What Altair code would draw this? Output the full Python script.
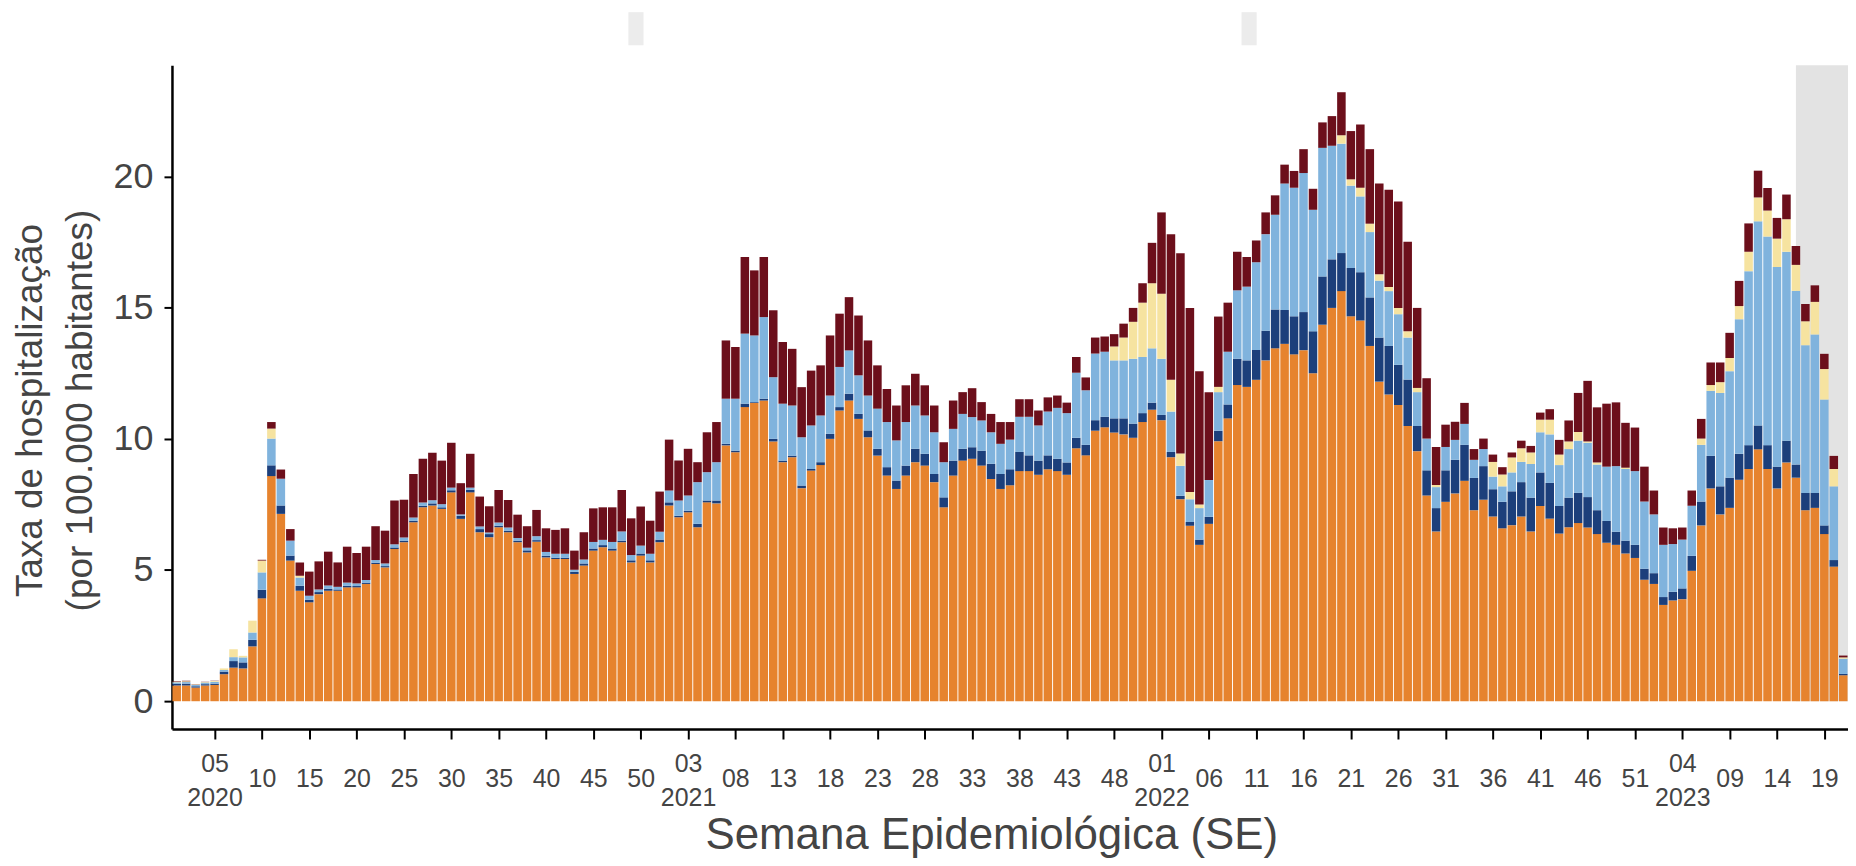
import altair as alt
import pandas as pd

# ---------------- categories ----------------
years = [2020] * 52 + [2021] * 52 + [2022] * 52 + [2023] * 21
weeks = list(range(1, 53)) * 3 + list(range(1, 22))

series = ["Série A", "Série B", "Série C", "Série D", "Série E"]
colors = ["#e6832e", "#1c3f7b", "#80b3dd", "#f6e3a0", "#6c0f1b"]

# ---------------- values (taxa por 100.000 hab.) ----------------
orange = [
    0.60, 0.60, 0.52, 0.60, 0.62, 1.03, 1.28, 1.25, 2.09, 3.92,
    8.58, 7.14, 5.36, 4.21, 3.77, 4.08, 4.21, 4.21, 4.34, 4.34,
    4.47, 5.23, 5.10, 5.80, 6.06, 6.82, 7.39, 7.46, 7.33, 7.96,
    6.95, 7.96, 6.44, 6.25, 6.63, 6.44, 6.06, 5.67, 6.08, 5.48,
    5.42, 5.42, 4.85, 5.17, 5.74, 5.87, 5.74, 6.06, 5.29, 5.55,
    5.29, 6.06, 7.46, 7.01, 7.20, 6.63, 7.58, 7.54, 9.75, 9.49,
    11.21, 11.37, 11.46, 9.90, 9.11, 9.30, 8.12, 8.79, 9.00, 10.00,
    11.08, 11.46, 10.76, 10.06, 9.36, 8.60, 8.09, 8.60, 9.11, 8.98,
    8.35, 7.39, 8.60, 9.17, 9.24, 8.98, 8.47, 8.09, 8.23, 8.77,
    8.77, 8.63, 8.84, 8.77, 8.63, 9.64, 9.37, 10.31, 10.44, 10.24,
    10.17, 10.04, 10.64, 11.11, 10.71, 9.30, 7.70, 6.69, 5.96, 6.76,
    9.91, 10.78, 12.05, 11.98, 12.25, 12.99, 13.45, 13.62, 13.22, 13.38,
    12.50, 14.35, 14.99, 15.63, 14.67, 14.51, 13.54, 12.18, 11.69, 11.29,
    10.49, 9.53, 7.84, 6.47, 7.60, 7.92, 8.40, 7.28, 7.68, 7.04,
    6.59, 6.71, 7.04, 6.47, 7.44, 6.96, 6.39, 6.63, 6.79, 6.62,
    6.37, 6.04, 5.96, 5.63, 5.46, 4.63, 4.47, 3.67, 3.84, 3.89,
    4.97, 6.70, 8.11, 7.12, 7.37, 8.44, 8.85, 9.60, 8.85, 8.11,
    9.10, 8.52, 7.28, 7.37, 6.37, 5.13, 0.99,
]
dark_blue = [
    0.06, 0.07, 0.05, 0.05, 0.05, 0.10, 0.25, 0.23, 0.25, 0.33,
    0.41, 0.32, 0.19, 0.19, 0.10, 0.08, 0.08, 0.05, 0.06, 0.05,
    0.05, 0.05, 0.05, 0.06, 0.06, 0.06, 0.06, 0.08, 0.06, 0.08,
    0.12, 0.10, 0.12, 0.12, 0.06, 0.06, 0.06, 0.08, 0.06, 0.06,
    0.05, 0.05, 0.08, 0.08, 0.08, 0.08, 0.08, 0.06, 0.08, 0.08,
    0.08, 0.10, 0.12, 0.06, 0.06, 0.13, 0.07, 0.11, 0.06, 0.06,
    0.13, 0.03, 0.07, 0.10, 0.06, 0.06, 0.10, 0.06, 0.11, 0.19,
    0.13, 0.26, 0.19, 0.26, 0.26, 0.32, 0.32, 0.38, 0.51, 0.45,
    0.31, 0.38, 0.57, 0.45, 0.44, 0.57, 0.58, 0.57, 0.61, 0.73,
    0.60, 0.54, 0.53, 0.47, 0.47, 0.40, 0.40, 0.40, 0.40, 0.54,
    0.61, 0.54, 0.34, 0.27, 0.20, 0.20, 0.13, 0.14, 0.20, 0.27,
    0.40, 0.53, 1.00, 1.01, 1.14, 1.13, 1.48, 1.29, 1.45, 1.45,
    1.60, 1.84, 1.85, 1.45, 1.84, 1.84, 1.85, 1.68, 1.85, 1.53,
    1.77, 0.96, 0.96, 0.89, 1.20, 1.28, 1.37, 1.23, 1.28, 1.04,
    1.01, 1.29, 1.31, 1.29, 1.28, 1.36, 1.05, 1.13, 1.15, 1.16,
    0.91, 0.83, 0.50, 0.49, 0.50, 0.42, 0.41, 0.30, 0.33, 0.41,
    0.57, 0.91, 1.24, 1.07, 1.15, 0.99, 0.91, 0.91, 0.91, 0.83,
    0.83, 0.50, 0.66, 0.57, 0.33, 0.25, 0.05,
]
light_blue = [
    0.06, 0.06, 0.05, 0.06, 0.07, 0.06, 0.15, 0.19, 0.28, 0.66,
    1.02, 1.02, 0.57, 0.32, 0.15, 0.10, 0.12, 0.10, 0.12, 0.10,
    0.10, 0.10, 0.10, 0.12, 0.12, 0.12, 0.12, 0.12, 0.12, 0.10,
    0.05, 0.08, 0.10, 0.06, 0.12, 0.12, 0.10, 0.10, 0.15, 0.15,
    0.15, 0.15, 0.08, 0.15, 0.25, 0.20, 0.25, 0.35, 0.20, 0.30,
    0.25, 0.30, 0.45, 0.58, 0.58, 1.59, 1.08, 1.46, 1.72, 1.98,
    2.67, 2.54, 3.11, 2.35, 2.17, 1.91, 1.84, 1.66, 1.78, 1.46,
    1.53, 1.65, 1.47, 1.33, 1.53, 1.72, 1.53, 1.66, 1.65, 1.46,
    1.59, 1.34, 1.21, 1.33, 1.15, 1.15, 1.20, 1.15, 1.13, 1.34,
    1.47, 1.34, 1.67, 1.94, 1.88, 2.48, 2.08, 2.54, 2.48, 2.21,
    2.21, 2.47, 2.14, 2.07, 2.14, 1.54, 1.14, 0.87, 1.20, 1.40,
    1.47, 2.01, 2.61, 2.81, 3.34, 3.68, 3.61, 4.82, 4.90, 5.30,
    4.63, 4.90, 4.33, 4.17, 3.14, 2.89, 2.49, 2.17, 2.09, 1.93,
    1.60, 1.29, 1.21, 0.80, 0.89, 0.76, 0.80, 0.69, 0.65, 0.48,
    0.59, 0.72, 0.77, 1.28, 1.53, 1.85, 1.56, 1.85, 1.99, 2.07,
    1.74, 2.07, 2.50, 2.73, 2.81, 2.56, 2.24, 1.99, 1.82, 1.86,
    1.91, 2.16, 2.48, 3.56, 4.06, 5.13, 6.63, 7.78, 7.95, 7.61,
    7.20, 6.62, 5.63, 6.04, 4.80, 2.81, 0.58,
]
yellow = [
    0.02, 0.03, 0.02, 0.02, 0.03, 0.06, 0.30, 0.06, 0.45, 0.45,
    0.38, 0.00, 0.00, 0.06, 0.00, 0.00, 0.00, 0.00, 0.00, 0.00,
    0.00, 0.00, 0.00, 0.00, 0.00, 0.00, 0.00, 0.00, 0.00, 0.00,
    0.00, 0.00, 0.00, 0.00, 0.00, 0.00, 0.00, 0.00, 0.00, 0.00,
    0.00, 0.00, 0.00, 0.00, 0.00, 0.00, 0.00, 0.00, 0.00, 0.00,
    0.00, 0.00, 0.00, 0.00, 0.00, 0.00, 0.00, 0.00, 0.00, 0.00,
    0.00, 0.00, 0.00, 0.00, 0.00, 0.00, 0.00, 0.00, 0.00, 0.00,
    0.00, 0.00, 0.00, 0.00, 0.00, 0.00, 0.00, 0.00, 0.00, 0.00,
    0.00, 0.00, 0.00, 0.00, 0.00, 0.00, 0.00, 0.00, 0.00, 0.00,
    0.00, 0.00, 0.00, 0.00, 0.00, 0.00, 0.00, 0.00, 0.00, 0.53,
    0.87, 1.41, 2.07, 2.48, 2.48, 1.21, 0.47, 0.27, 0.14, 0.00,
    0.20, 0.00, 0.00, 0.00, 0.00, 0.00, 0.00, 0.00, 0.00, 0.00,
    0.00, 0.00, 0.00, 0.32, 0.24, 0.33, 0.32, 0.24, 0.16, 0.24,
    0.24, 0.16, 0.00, 0.08, 0.00, 0.00, 0.00, 0.00, 0.00, 0.56,
    0.45, 0.57, 0.52, 0.44, 0.48, 0.56, 0.40, 0.29, 0.33, 0.05,
    0.08, 0.00, 0.00, 0.05, 0.00, 0.00, 0.00, 0.00, 0.00, 0.00,
    0.00, 0.24, 0.22, 0.41, 0.50, 0.50, 0.74, 0.91, 0.99, 1.08,
    1.24, 0.99, 0.91, 1.24, 1.16, 0.66, 0.05,
]
dark_red = [
    0.02, 0.02, 0.01, 0.01, 0.01, 0.00, 0.00, 0.00, 0.00, 0.03,
    0.25, 0.35, 0.44, 0.51, 0.92, 1.07, 1.29, 0.93, 1.37, 1.16,
    1.27, 1.29, 1.25, 1.67, 1.44, 1.66, 1.67, 1.81, 1.66, 1.71,
    1.19, 1.29, 1.14, 1.00, 1.24, 1.05, 0.89, 0.82, 1.00, 0.90,
    0.91, 0.97, 0.73, 1.04, 1.28, 1.24, 1.32, 1.58, 1.40, 1.49,
    1.26, 1.53, 1.94, 1.52, 1.78, 0.76, 1.52, 1.53, 2.22, 1.97,
    2.92, 2.48, 2.29, 2.55, 2.35, 2.16, 1.91, 2.09, 1.91, 2.29,
    2.03, 2.03, 2.28, 2.10, 1.65, 1.26, 1.33, 1.40, 1.21, 1.15,
    1.02, 0.76, 1.08, 0.83, 1.10, 0.70, 0.70, 0.83, 0.67, 0.67,
    0.67, 0.57, 0.54, 0.47, 0.40, 0.60, 0.49, 0.61, 0.58, 0.47,
    0.53, 0.53, 0.74, 1.54, 3.10, 5.55, 7.63, 7.02, 5.08, 3.35,
    2.68, 1.87, 1.47, 1.13, 0.83, 0.83, 0.74, 0.72, 0.64, 0.91,
    0.80, 0.97, 1.13, 1.64, 1.84, 2.41, 2.84, 3.46, 3.70, 4.06,
    3.41, 3.05, 2.30, 1.45, 0.85, 0.69, 0.80, 0.41, 0.40, 0.28,
    0.28, 0.19, 0.29, 0.25, 0.27, 0.40, 0.56, 0.80, 1.49, 2.31,
    2.10, 2.40, 2.43, 1.71, 1.66, 1.33, 0.91, 0.66, 0.60, 0.46,
    0.58, 0.75, 0.86, 0.75, 0.96, 0.96, 1.08, 1.02, 0.86, 0.79,
    0.94, 0.72, 0.66, 0.63, 0.58, 0.50, 0.07,
]

# axis ticks / labels
y_ticks = [0, 5, 10, 15, 20]
tick_idx = list(range(4, len(weeks), 5))

# shaded (recent, incomplete) period starts at SE 16/2023
shade_year, shade_week = 2023, 16
# faint grey marks above the plot (SE 49-50/2020 and SE 10-11/2022)
marker_centers = [48.5, 113.25]

Y_MIN, Y_MAX = -1.06, 24.24
X_MIN, X_MAX = -0.5, len(weeks) - 0.5

# ---------------- tables ----------------
rows = []
for k, (name, vals) in enumerate(zip(series, [orange, dark_blue, light_blue, yellow, dark_red])):
    for i, v in enumerate(vals):
        rows.append({"idx": i, "ano": years[i], "semana": weeks[i],
                     "serie": name, "ordem": k, "valor": v})
df = pd.DataFrame(rows)

shade_idx = [i for i in range(len(weeks)) if years[i] == shade_year and weeks[i] == shade_week][0]
shade_df = pd.DataFrame([{"xa": shade_idx, "xb": X_MAX, "y0": 0, "y1": Y_MAX}])
marker_df = pd.DataFrame([{"xa": c - 0.8, "xb": c + 0.8, "y0": 25.0, "y1": 26.26}
                          for c in marker_centers])

# tick labels (week, plus year on first tick of each year)
seen = set()
parts = []
year_ticks = []
for i in tick_idx:
    w = f"{weeks[i]:02d}"
    if years[i] not in seen:
        seen.add(years[i])
        year_ticks.append(i)
        parts.append(f"datum.value == {i} ? ['{w}', '{years[i]}']")
    else:
        parts.append(f"datum.value == {i} ? '{w}'")
label_expr = " : ".join(parts) + " : ''"
year_test = "indexof([" + ",".join(str(i) for i in year_ticks) + "], datum.value) >= 0"

FONT = "Liberation Sans"
TXT = "#444444"
X_LABEL_PAD = 40
X_LINE_H = 34

x_scale = alt.Scale(domain=[X_MIN, X_MAX], nice=False, zero=False)
y_scale = alt.Scale(domain=[Y_MIN, Y_MAX], nice=False, zero=False)

x_axis = alt.Axis(
    values=tick_idx, labelExpr=label_expr, grid=False,
    domainColor="black", domainWidth=2.5, tickColor="black", tickWidth=2, tickSize=10,
    labelFont=FONT, labelFontSize=25, labelColor=TXT,
    labelPadding={"condition": {"test": year_test,
                                "value": X_LABEL_PAD + 1.5 - X_LINE_H / 2},
                  "value": X_LABEL_PAD},
    labelBaseline="middle", labelLineHeight=X_LINE_H, labelAlign="center",
    labelOverlap=False, labelFlush=False, labelBound=False,
    titleFont=FONT, titleFontSize=44, titleFontWeight="normal", titleColor=TXT,
    titleX=822, titleY=120, titleAlign="center", titleBaseline="alphabetic",
)
y_axis = alt.Axis(
    values=y_ticks, grid=False,
    domainColor="black", domainWidth=2.5, tickColor="black", tickWidth=2, tickSize=8,
    labelFont=FONT, labelFontSize=36, labelColor=TXT, labelPadding=11,
    titleFont=FONT, titleFontSize=37, titleFontWeight="normal", titleColor=TXT,
    titleLineHeight=50, titleAngle=270, titleX=-131, titleY=346,
    titleAlign="center", titleBaseline="alphabetic",
)
X_TITLE = "Semana Epidemiológica (SE)"
Y_TITLE = ["Taxa de hospitalização", "(por 100.000 habitantes)"]


def xenc():
    return alt.X("xa:Q", scale=x_scale, axis=x_axis, title=X_TITLE)


def yenc():
    return alt.Y("y0:Q", scale=y_scale, axis=y_axis, title=Y_TITLE)


bars = alt.Chart(df).transform_stack(
    stack="valor", groupby=["idx"], as_=["y0", "y1"],
    sort=[alt.SortField("ordem", order="ascending")],
).transform_calculate(
    xa="datum.idx - 0.45", xb="datum.idx + 0.45"
).mark_rect().encode(
    x=xenc(), x2="xb:Q",
    y=yenc(), y2="y1:Q",
    color=alt.Color("serie:N", scale=alt.Scale(domain=series, range=colors), legend=None),
)

shade = alt.Chart(shade_df).mark_rect(color="#e3e3e3").encode(
    x=xenc(), x2="xb:Q", y=yenc(), y2="y1:Q",
)

markers = alt.Chart(marker_df).mark_rect(color="#ececec", clip=False).encode(
    x=xenc(), x2="xb:Q", y=yenc(), y2="y1:Q",
)

chart = alt.layer(shade, bars, markers).properties(
    width=1681.5, height=666,
    autosize=alt.AutoSizeParams(type="none"),
    padding={"left": 164.5, "top": 56, "right": 0, "bottom": 128},
).configure_view(stroke=None)

chart.save("out.html", embed_options={"renderer": "svg", "actions": False})
